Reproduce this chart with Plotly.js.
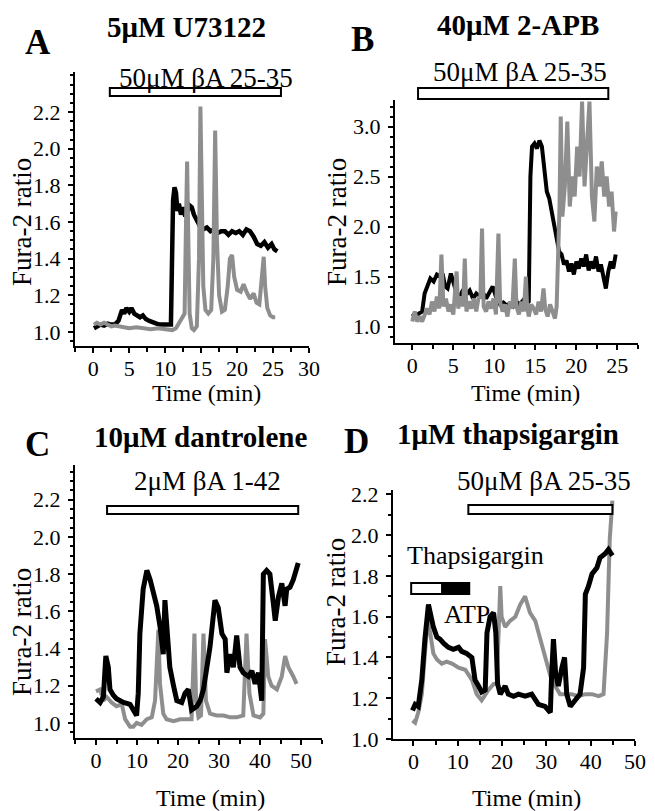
<!DOCTYPE html>
<html>
<head>
<meta charset="utf-8">
<script src="https://cdn.plot.ly/plotly-3.0.1.min.js"></script>
<style>html,body{margin:0;padding:0;background:#fff}#chart{width:655px;height:811px}</style>
</head>
<body>
<div id="chart"></div>
<script>
// ---------- Panel A: 5µM U73122, 50µM βA 25-35 ----------
const tA_black = [0.1,0.5,1.0,1.5,2.0,2.5,3.0,3.5,4.0,4.3,4.6,5.0,5.3,5.7,6.1,6.5,6.9,7.3,7.8,8.3,8.8,9.3,9.8,10.4,10.8,11.0,11.1,11.3,11.5,11.7,11.9,12.2,12.5,12.8,13.1,13.4,13.7,14.0,14.4,14.8,15.3,15.8,16.3,16.8,17.3,17.8,18.3,18.8,19.3,19.8,20.3,20.8,21.3,21.8,22.3,22.8,23.3,23.8,24.3,24.8,25.2,25.6];
const vA_black = [1.02,1.03,1.04,1.035,1.045,1.04,1.04,1.06,1.12,1.10,1.13,1.11,1.13,1.10,1.09,1.08,1.09,1.07,1.06,1.05,1.045,1.04,1.04,1.035,1.04,1.5,1.72,1.79,1.76,1.66,1.70,1.64,1.68,1.63,1.66,1.69,1.68,1.64,1.61,1.58,1.56,1.57,1.55,1.56,1.54,1.55,1.55,1.53,1.55,1.54,1.55,1.53,1.56,1.55,1.52,1.48,1.47,1.49,1.46,1.48,1.45,1.44];
const tA_gray = [0.1,0.5,1,1.5,2,2.5,3,4,5,6,7,8,9,10,11,11.5,12,12.4,12.7,12.9,13.05,13.2,13.4,13.7,14.0,14.4,14.7,14.9,15.1,15.3,15.6,16.0,16.4,16.7,16.95,17.2,17.5,17.9,18.3,18.7,19.0,19.3,19.6,20.0,20.5,20.9,21.3,21.8,22.3,22.7,23.1,23.5,23.7,23.9,24.2,24.6,25.0,25.3];
const vA_gray = [1.04,1.05,1.04,1.05,1.04,1.03,1.035,1.03,1.02,1.025,1.02,1.015,1.02,1.015,1.01,1.02,1.05,1.08,1.10,1.6,1.93,1.55,1.1,1.02,1.01,1.03,1.4,2.23,1.6,1.25,1.12,1.10,1.12,1.4,2.10,1.5,1.2,1.11,1.12,1.25,1.40,1.42,1.30,1.23,1.22,1.26,1.22,1.18,1.21,1.16,1.15,1.35,1.41,1.25,1.13,1.09,1.08,1.08];
const barA = [2.3, 26.1];

// ---------- Panel B: 40µM 2-APB, 50µM βA 25-35 ----------
const tB_black = [0.0,0.4,0.8,1.2,1.5,1.8,2.2,2.6,3.0,3.4,3.7,4.0,4.3,4.7,5.0,5.4,5.8,6.2,6.6,7.0,7.4,7.8,8.2,8.6,9.0,9.4,9.8,10.3,10.7,11.1,11.5,11.9,12.3,12.7,13.1,13.5,13.9,14.2,14.4,14.6,14.9,15.2,15.5,15.8,16.1,16.4,16.7,17.0,17.3,17.6,17.9,18.2,18.5,18.8,19.1,19.4,19.7,20.0,20.3,20.6,20.9,21.2,21.5,21.8,22.1,22.4,22.7,23.0,23.3,23.6,23.9,24.2,24.5,24.8];
const vB_black = [1.13,1.10,1.13,1.15,1.33,1.40,1.48,1.45,1.52,1.50,1.53,1.40,1.38,1.53,1.45,1.33,1.30,1.37,1.32,1.36,1.28,1.33,1.30,1.34,1.28,1.35,1.40,1.27,1.22,1.24,1.21,1.23,1.20,1.25,1.22,1.26,1.23,1.25,2.5,2.80,2.83,2.78,2.86,2.80,2.55,2.35,2.28,2.15,2.00,1.85,1.75,1.72,1.62,1.66,1.55,1.63,1.52,1.65,1.58,1.68,1.60,1.72,1.56,1.65,1.58,1.70,1.55,1.62,1.50,1.38,1.55,1.65,1.58,1.72];
const tB_gray = [0.0,0.3,0.6,0.9,1.2,1.5,1.8,2.1,2.4,2.7,3.0,3.3,3.55,3.8,4.1,4.4,4.7,5.0,5.2,5.4,5.6,5.9,6.2,6.4,6.6,6.9,7.2,7.5,7.8,8.1,8.3,8.5,8.7,9.0,9.3,9.6,9.9,10.2,10.5,10.7,11.0,11.3,11.6,11.9,12.2,12.5,12.7,13.0,13.3,13.6,13.85,14.0,14.2,14.5,14.8,15.1,15.4,15.7,16.0,16.2,16.5,16.8,17.1,17.4,17.6,17.8,17.95,18.1,18.3,18.6,18.9,19.2,19.5,19.8,20.1,20.4,20.7,21.0,21.3,21.6,21.9,22.2,22.5,22.8,23.1,23.4,23.7,24.0,24.3,24.6,24.8];
const vB_gray = [1.05,1.15,1.05,1.10,1.05,1.12,1.18,1.12,1.25,1.15,1.30,1.18,1.72,1.20,1.28,1.15,1.22,1.12,1.30,1.55,1.18,1.30,1.20,1.68,1.15,1.25,1.18,1.28,1.15,1.30,1.28,1.98,1.20,1.15,1.25,1.18,1.28,1.12,1.93,1.25,1.15,1.22,1.10,1.25,1.18,1.68,1.20,1.12,1.25,1.15,1.50,1.20,1.10,1.22,1.18,1.12,1.25,1.15,1.38,1.18,1.10,1.22,1.15,1.08,1.20,1.70,2.2,3.1,2.1,2.4,3.05,2.2,2.5,2.3,2.8,2.5,3.25,2.4,2.8,3.25,2.3,2.05,2.6,2.4,2.65,2.3,2.5,2.2,2.35,1.95,2.15];
const barB = [0.7, 23.9];

// ---------- Panel C: 10µM dantrolene, 2µM βA 1-42 ----------
const tC_black = [0,1.0,1.8,2.4,3.0,3.4,4.2,5.0,6.7,8.3,9.1,9.9,10.3,10.7,11.5,12.4,13.2,14.0,14.8,15.6,16.4,16.8,17.2,18.0,18.9,19.7,20.9,21.7,22.5,23.3,24.6,25.4,26.2,27.0,27.8,29.0,29.8,30.7,31.5,31.9,32.7,33.5,34.3,35.1,35.9,37.2,38.0,38.8,39.6,40.4,40.8,41.6,42.4,43.3,43.7,44.5,45.3,46.1,46.5,47.3,48.1,49.3];
const vC_black = [1.13,1.11,1.14,1.36,1.30,1.18,1.15,1.13,1.11,1.10,1.07,1.04,1.16,1.48,1.72,1.82,1.77,1.70,1.63,1.52,1.37,1.66,1.52,1.30,1.20,1.12,1.11,1.16,1.18,1.07,1.09,1.12,1.18,1.30,1.41,1.66,1.62,1.48,1.45,1.27,1.37,1.30,1.47,1.30,1.27,1.25,1.28,1.21,1.27,1.12,1.80,1.82,1.80,1.63,1.55,1.68,1.75,1.63,1.72,1.73,1.77,1.86];
const tC_gray = [0,1.0,1.8,2.6,3.8,5.0,6.3,7.1,8.3,9.1,9.9,11.1,12.4,13.6,14.4,15.2,15.6,16.4,17.2,18.9,20.5,22.1,23.3,24.0,24.4,25.0,25.6,26.2,26.8,27.8,29.4,31.1,32.7,34.3,35.9,36.7,37.4,38.4,40.0,40.8,41.2,42.0,42.8,44.1,45.3,46.1,46.9,48.1,48.9];
const vC_gray = [1.17,1.18,1.12,1.14,1.11,1.09,1.10,1.02,0.98,0.98,1.00,0.99,1.02,1.03,1.12,1.50,1.21,1.05,1.02,1.01,1.02,1.02,1.02,1.48,1.12,1.03,1.04,1.48,1.12,1.05,1.04,1.04,1.03,1.03,1.04,1.48,1.16,1.04,1.03,1.05,1.45,1.25,1.20,1.18,1.25,1.36,1.30,1.25,1.21];
const barC = [2.7, 49.3];

// ---------- Panel D: 1µM thapsigargin, 50µM βA 25-35 ----------
const tD_black = [-0.2,0.4,1.1,1.9,2.6,3.4,3.8,4.5,5.3,6.0,6.8,7.9,9.0,10.2,10.9,12.0,13.2,13.9,14.7,15.4,16.2,16.6,17.3,18.1,18.6,19.0,19.6,20.7,21.4,22.6,23.7,25.2,26.7,28.2,29.7,30.9,31.2,31.6,32.1,32.7,33.5,34.1,34.6,35.4,36.5,37.6,38.4,38.8,39.5,40.3,41.4,42.1,43.3,44.0,44.9];
const vD_black = [1.14,1.17,1.16,1.29,1.49,1.66,1.62,1.55,1.50,1.49,1.47,1.45,1.44,1.45,1.43,1.42,1.40,1.29,1.26,1.23,1.24,1.52,1.60,1.62,1.52,1.27,1.22,1.26,1.22,1.21,1.22,1.21,1.22,1.17,1.16,1.13,1.32,1.49,1.32,1.26,1.35,1.40,1.22,1.16,1.19,1.22,1.35,1.71,1.75,1.81,1.84,1.89,1.91,1.93,1.90];
const tD_gray = [-0.2,0.4,1.1,1.9,2.6,3.2,3.8,4.5,5.3,6.4,7.5,8.7,10.2,11.7,13.2,14.3,15.4,16.9,18.1,18.8,19.6,19.9,20.7,21.8,23.0,24.1,25.2,26.3,27.5,28.6,29.7,30.9,32.0,33.1,34.2,35.7,37.2,38.8,40.3,41.8,42.9,43.7,44.3,44.7,44.9];
const vD_gray = [1.09,1.08,1.13,1.22,1.42,1.58,1.52,1.42,1.39,1.37,1.38,1.37,1.35,1.34,1.29,1.22,1.19,1.24,1.27,1.27,1.75,1.60,1.55,1.58,1.60,1.66,1.70,1.62,1.58,1.49,1.39,1.31,1.26,1.22,1.22,1.22,1.21,1.22,1.22,1.21,1.22,1.52,1.98,2.09,2.17];
const barD = [12.4, 44.9];
const barThap = [-0.5, 6.5];
const barATP = [6.5, 12.6];

// tick labels
const xTicksA = [0,5,10,15,20,25,30];
const xTicksB = [0,5,10,15,20,25];
const xTicks50 = [0,10,20,30,40,50];
const yTicks22 = [1.0,1.2,1.4,1.6,1.8,2.0,2.2];
const yTicksB = [1.0,1.5,2.0,2.5,3.0];

// ---------- layout helpers ----------
const W = 655, H = 811;
const FONT = "'Liberation Serif', 'Times New Roman', Times, serif";
const px = x => x / W;
const py = y => 1 - y / H;

function xax(l, r, range, tv, mdt, anchor) {
  return {domain:[px(l), px(r)], range:range, anchor:anchor, tickmode:'array', tickvals:tv,
    ticks:'outside', ticklen:5, tickwidth:2, tickcolor:'#000', showline:true, linewidth:2, linecolor:'#000',
    showgrid:false, zeroline:false, ticklabelstandoff:-3,
    minor:{tickmode:'linear', tick0:0, dtick:mdt, ticks:'outside', ticklen:4, tickwidth:2, tickcolor:'#000', showgrid:false},
    tickfont:{family:FONT, size:22, color:'#000'}};
}
function yax(top, bot, range, tv, mdt, anchor, fmt) {
  return {domain:[py(bot), py(top)], range:range, anchor:anchor, tickmode:'array', tickvals:tv, tickformat:fmt,
    ticks:'outside', ticklen:5, tickwidth:2, tickcolor:'#000', showline:true, linewidth:2, linecolor:'#000',
    showgrid:false, zeroline:false, ticklabelstandoff:3,
    minor:{tickmode:'linear', tick0:1, dtick:mdt, ticks:'outside', ticklen:3, tickwidth:2, tickcolor:'#000', showgrid:false},
    tickfont:{family:FONT, size:22, color:'#000'}};
}

const BLACK = '#000000', GRAY = '#8e8e8e';
function tr(t, v, color, w, xa, ya) {
  return {x:t, y:v, type:'scatter', mode:'lines', line:{color:color, width:w, shape:'linear'}, xaxis:xa, yaxis:ya, hoverinfo:'skip'};
}

const data = [
  tr(tA_black, vA_black, BLACK, 4.5, 'x', 'y'),
  tr(tA_gray, vA_gray, GRAY, 4, 'x', 'y'),
  tr(tB_black, vB_black, BLACK, 4, 'x2', 'y2'),
  tr(tB_gray, vB_gray, GRAY, 4, 'x2', 'y2'),
  tr(tC_gray, vC_gray, GRAY, 4, 'x3', 'y3'),
  tr(tC_black, vC_black, BLACK, 5, 'x3', 'y3'),
  tr(tD_gray, vD_gray, GRAY, 4, 'x4', 'y4'),
  tr(tD_black, vD_black, BLACK, 5, 'x4', 'y4')
];

function bar(xref, x, topPx, botPx, fill) {
  return {type:'rect', xref:xref, yref:'paper', x0:x[0], x1:x[1], y0:py(botPx), y1:py(topPx),
    line:{color:'#000', width:2}, fillcolor:fill, layer:'above'};
}
const shapes = [
  bar('x', barA, 88, 96, '#fff'),
  bar('x2', barB, 88, 99, '#fff'),
  bar('x3', barC, 506, 514, '#fff'),
  bar('x4', barD, 505, 514, '#fff'),
  bar('x4', barThap, 583, 594, '#fff'),
  bar('x4', barATP, 583, 594, '#000')
];

function note(text, xPx, yPx, size, bold, angle) {
  return {text: bold ? '<b>' + text + '</b>' : text, xref:'paper', yref:'paper', x:px(xPx), y:py(yPx),
    xanchor:'center', yanchor:'middle', showarrow:false, textangle:angle || 0,
    font:{family:FONT, size:size, color:'#000'}};
}
const annotations = [
  note('A', 38, 42, 35, true), note('B', 362, 40, 35, true), note('C', 37, 445, 35, true), note('D', 356, 442, 35, true),
  note('5μM U73122', 186, 27, 29, true), note('40μM 2-APB', 518, 25, 29, true),
  note('10μM dantrolene', 200, 437, 29, true), note('1μM thapsigargin', 508, 434, 29, true),
  note('50μM βA 25-35', 206, 78, 27), note('50μM βA 25-35', 520, 72, 27),
  note('2μM βA 1-42', 207, 481, 27), note('50μM βA 25-35', 544, 481, 27),
  note('Thapsigargin', 476, 555, 26), note('ATP', 467, 614, 26),
  note('Time (min)', 206, 393, 24), note('Time (min)', 525, 393, 24),
  note('Time (min)', 210, 798, 24), note('Time (min)', 526, 798, 24),
  note('Fura-2 ratio', 22, 222, 27, false, -90), note('Fura-2 ratio', 337, 222, 27, false, -90),
  note('Fura-2 ratio', 22, 632, 27, false, -90), note('Fura-2 ratio', 336, 602, 27, false, -90)
];

const layout = {
  width:W, height:H, margin:{l:0, r:0, t:0, b:0}, paper_bgcolor:'#fff', plot_bgcolor:'rgba(0,0,0,0)',
  showlegend:false, font:{family:FONT, color:'#000'},
  xaxis:  xax(75, 309, [-2.54, 30.0], xTicksA, 2.5, 'y'),
  yaxis:  yax(72, 346, [0.923, 2.419], yTicks22, 0.05, 'x', '.1f'),
  xaxis2: xax(395, 638, [-2.11, 27.52], xTicksB, 2.5, 'y2'),
  yaxis2: yax(100, 343, [0.835, 3.265], yTicksB, 0.1, 'x2', '.1f'),
  xaxis3: xax(75, 322, [-5.12, 55.1], xTicks50, 5, 'y3'),
  yaxis3: yax(465, 738, [0.919, 2.387], yTicks22, 0.05, 'x3', '.1f'),
  xaxis4: xax(393, 635, [-4.6, 50.0], xTicks50, 5, 'y4'),
  yaxis4: yax(490, 739, [1.0, 2.222], yTicks22, 0.1, 'x4', '.1f'),
  shapes:shapes, annotations:annotations
};

Plotly.newPlot('chart', data, layout, {displayModeBar:false, staticPlot:true});
</script>
</body>
</html>
